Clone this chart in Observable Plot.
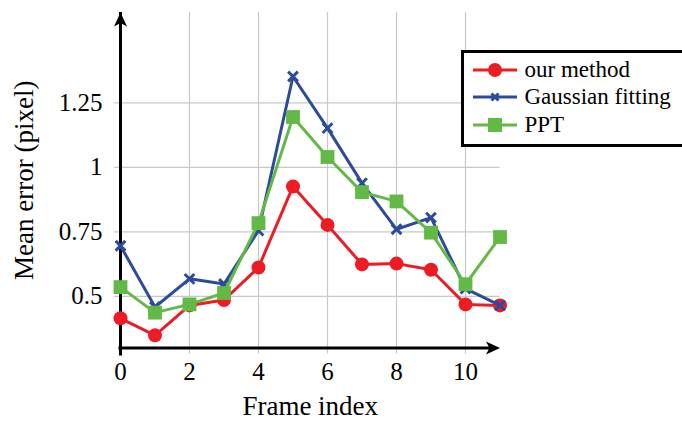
<!DOCTYPE html>
<html>
<head>
<meta charset="utf-8">
<script src="https://cdn.jsdelivr.net/npm/d3@7"></script>
<script src="https://cdn.jsdelivr.net/npm/@observablehq/plot@0.6"></script>
<style>
  html, body { margin: 0; padding: 0; background: #fff; overflow: hidden; }
  #wrap { position: relative; width: 682px; height: 421px; overflow: hidden; }
  #legend {
    position: absolute; left: 461px; top: 50px; width: 260px; height: 97px;
    box-sizing: border-box; border: 3.5px solid #000; background: #fff;
    padding: 3px 0 0 8.5px;
    font-family: "Liberation Serif", "Tinos", "Times New Roman", "DejaVu Serif", serif; font-size: 23px; color: #000;
  }
  .row { display: flex; align-items: center; height: 27.5px; white-space: nowrap; }
  .row svg { margin-right: 8px; flex: none; }
</style>
</head>
<body>
<div id="wrap"></div>
<script>
const frames = [0, 1, 2, 3, 4, 5, 6, 7, 8, 9, 10, 11];
const ourMethod = [0.415, 0.349, 0.465, 0.486, 0.612, 0.926, 0.777, 0.624, 0.627, 0.603, 0.469, 0.465];
const gaussian  = [0.696, 0.459, 0.568, 0.548, 0.755, 1.352, 1.152, 0.939, 0.760, 0.805, 0.530, 0.465];
const ppt       = [0.536, 0.437, 0.469, 0.513, 0.784, 1.195, 1.040, 0.904, 0.868, 0.747, 0.547, 0.730];
const seriesNames = ["our method", "Gaussian fitting", "PPT"];
const seriesColors = ["#ed1c24", "#2d4b9b", "#63b946"];
const seriesSymbols = ["circle", "times", "square"];
const xTicks = [0, 2, 4, 6, 8, 10];
const yTicks = [0.5, 0.75, 1, 1.25];
const xDomain = [0, 11];
const yDomain = [0.3, 1.6];
const xLabel = "Frame index";
const yLabel = "Mean error (pixel)";

const FONT = '"Liberation Serif", "Tinos", "Times New Roman", "DejaVu Serif", serif';

const seriesValues = [ourMethod, gaussian, ppt];
const rows = seriesValues.map((vals, s) =>
  frames.map((f, i) => ({frame: f, value: vals[i], series: seriesNames[s]})));

// stealth arrowhead symbol, tip at origin, pointing up
const stealth = {
  draw(context) {
    context.moveTo(0, 0);
    context.lineTo(6.5, 14);
    context.lineTo(0, 10.5);
    context.lineTo(-6.5, 14);
    context.closePath();
  }
};
const arrowTips = [
  {x: xDomain[1], y: yDomain[0], angle: 90},
  {x: xDomain[0], y: yDomain[1], angle: 0}
];

const seriesMarks = [];
rows.forEach((data, s) => {
  seriesMarks.push(Plot.line(data, {x: "frame", y: "value", stroke: seriesColors[s], strokeWidth: 3}));
  if (seriesSymbols[s] === "times") {
    seriesMarks.push(Plot.dot(data, {x: "frame", y: "value", symbol: "times", r: 4.5, stroke: seriesColors[s], strokeWidth: 3}));
  } else if (seriesSymbols[s] === "square") {
    seriesMarks.push(Plot.dot(data, {x: "frame", y: "value", symbol: "square", r: 7.8, fill: seriesColors[s], stroke: "none"}));
  } else {
    seriesMarks.push(Plot.dot(data, {x: "frame", y: "value", r: 7, fill: seriesColors[s], stroke: "none"}));
  }
});

const chart = Plot.plot({
  width: 682,
  height: 421,
  marginLeft: 120,
  marginRight: 182.5,
  marginTop: 12,
  marginBottom: 73.5,
  style: {fontFamily: FONT, fontSize: "25px", color: "#000", background: "transparent"},
  x: {domain: xDomain, axis: null},
  y: {domain: yDomain, axis: null},
  marks: [
    Plot.gridY(yTicks, {stroke: "#c8c8c8", strokeOpacity: 1, strokeWidth: 1.2}),
    Plot.gridX(xTicks, {stroke: "#c8c8c8", strokeOpacity: 1, strokeWidth: 1.2}),
    Plot.axisX(xTicks, {tickSize: 6, tickPadding: 8, stroke: "#c8c8c8", strokeWidth: 1.2, fill: "#000", fontSize: 25, label: null}),
    Plot.axisY(yTicks, {tickSize: 6, tickPadding: 12, stroke: "#c8c8c8", strokeWidth: 1.2, fill: "#000", fontSize: 25, label: null, tickFormat: d => String(d)}),
    Plot.ruleY([yDomain[0]], {x1: xDomain[0], x2: xDomain[1], insetRight: 8, insetLeft: -1.5, stroke: "#000", strokeWidth: 3}),
    Plot.ruleX([xDomain[0]], {y1: yDomain[0], y2: yDomain[1], insetTop: 8, stroke: "#000", strokeWidth: 3}),
    Plot.dot(arrowTips, {x: "x", y: "y", rotate: "angle", symbol: stealth, r: 5, fill: "#000", stroke: "none"}),
    ...seriesMarks,
    Plot.text([xLabel], {frameAnchor: "bottom", lineAnchor: "middle", dy: 58, fontSize: 27, fill: "#000"}),
    Plot.text([yLabel], {frameAnchor: "left", textAnchor: "middle", lineAnchor: "middle", rotate: -90, dx: -96, fontSize: 27, fill: "#000"})
  ]
});

const wrap = document.getElementById("wrap");
wrap.appendChild(chart);

const legend = document.createElement("div");
legend.id = "legend";
seriesNames.forEach((name, s) => {
  const row = document.createElement("div");
  row.className = "row";
  const c = seriesColors[s];
  let marker;
  if (seriesSymbols[s] === "circle") marker = `<circle cx="22" cy="11" r="7" fill="${c}"/>`;
  else if (seriesSymbols[s] === "square") marker = `<rect x="15" y="4" width="14" height="14" fill="${c}"/>`;
  else marker = `<path d="M18.5,7.5L25.5,14.5M25.5,7.5L18.5,14.5" stroke="${c}" stroke-width="3"/>`;
  row.innerHTML = `<svg width="44" height="22"><line x1="0" y1="11" x2="44" y2="11" stroke="${c}" stroke-width="3"/>${marker}</svg><span>${name}</span>`;
  legend.appendChild(row);
});
wrap.appendChild(legend);
</script>
</body>
</html>
